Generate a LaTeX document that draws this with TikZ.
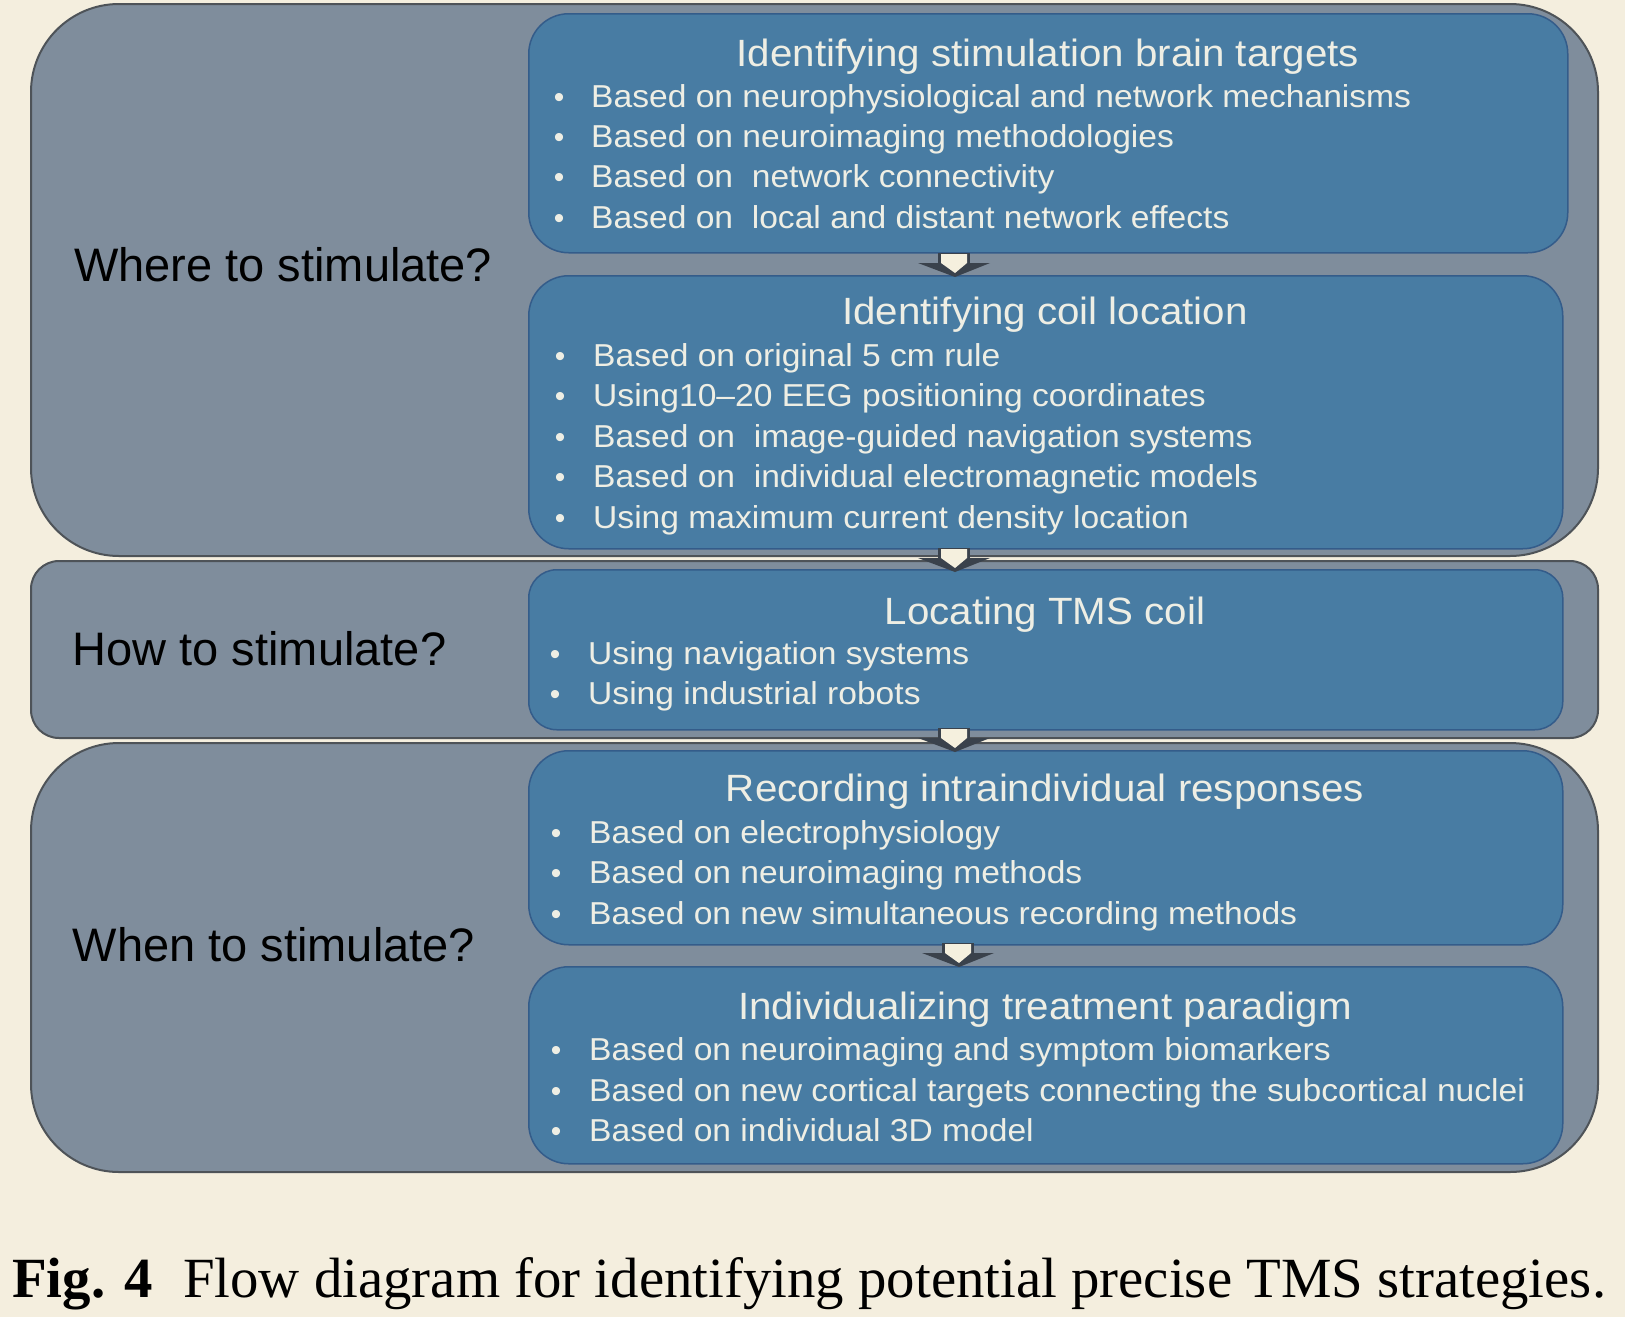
\documentclass[tikz,border=0pt]{standalone}
\usepackage{fontspec}
\newfontfamily\boxfont[FakeStretch=1.06]{Liberation Sans}
\newfontfamily\labfont{Liberation Sans}
\newfontfamily\capfont{Liberation Serif}
\definecolor{bgcream}{RGB}{244,238,222}
\definecolor{outerfill}{RGB}{127,141,156}
\definecolor{outerline}{RGB}{78,83,88}
\definecolor{innerfill}{RGB}{72,124,163}
\definecolor{innerline}{RGB}{52,92,138}
\definecolor{boxtext}{RGB}{238,238,228}
\definecolor{arrowcream}{RGB}{245,240,222}
\definecolor{arrowdark}{RGB}{58,66,76}
\newcommand{\blkarrow}[1]{%
  \begin{scope}[shift={(#1)}]
    \fill[arrowdark] (-36,10) -- (36,10) -- (1,24) -- cycle;
    \fill[arrowdark] (-16,0) rectangle (16,11);
    \fill[arrowcream] (-13,1) -- (13,1) -- (13,10) -- (1,20) -- (-13,10) -- cycle;
  \end{scope}}
\begin{document}
\begin{tikzpicture}[x=1pt,y=-1pt,
  outerbox/.style={draw=outerline, line width=2pt, fill=outerfill, anchor=north west, inner sep=0pt},
  innerbox/.style={draw=innerline, line width=1.5pt, fill=innerfill, anchor=north west, inner sep=0pt},
  boxtitle/.style={font={\boxfont\fontsize{38}{44}\selectfont}, text=boxtext, anchor=base, inner sep=0pt},
  item/.style={font={\boxfont\fontsize{31.7}{36}\selectfont}, text=boxtext, anchor=base west, inner sep=0pt},
  bul/.style={font={\labfont\fontsize{30}{36}\selectfont}, text=boxtext, anchor=base, inner sep=0pt},
  sidelabel/.style={font={\labfont\fontsize{47}{54}\selectfont}, text=black, anchor=base west, inner sep=0pt},
  capstyle/.style={font={\capfont\fontsize{56.8}{66}\selectfont}, text=black, anchor=base west, inner sep=0pt}]
\useasboundingbox (0,0) rectangle (1625,1317);
\fill[bgcream] (0,0) rectangle (1625,1317);

% outer group boxes
\node[outerbox, rounded corners=88pt, minimum width=1567pt, minimum height=552pt] (where) at (30,3) {};
\node[outerbox, rounded corners=28pt, minimum width=1567pt, minimum height=177pt] (how) at (30,560) {};
\node[outerbox, rounded corners=88pt, minimum width=1567pt, minimum height=429pt] (when) at (30,742) {};

% inner boxes
\node[innerbox, rounded corners=40pt, minimum width=1039pt, minimum height=239pt] (A) at (528,13) {};
\node[innerbox, rounded corners=40pt, minimum width=1034pt, minimum height=273pt] (B) at (528,275) {};
\node[innerbox, rounded corners=28pt, minimum width=1034pt, minimum height=160pt] (C) at (528,569) {};
\node[innerbox, rounded corners=40pt, minimum width=1034pt, minimum height=194pt] (D) at (528,750) {};
\node[innerbox, rounded corners=40pt, minimum width=1034pt, minimum height=197pt] (E) at (528,966) {};

% side labels
\node[sidelabel] (lwhere) at (74,281) {Where to stimulate?};
\node[sidelabel] (lhow) at (72.5,665) {How to stimulate?};
\node[sidelabel] (lwhen) at (72.5,961) {When to stimulate?};

% titles
\node[boxtitle] (tA) at (1048,66) {Identifying stimulation brain targets};
\node[boxtitle] (tB) at (1045,324) {Identifying coil location};
\node[boxtitle] (tC) at (1045,624) {Locating TMS coil};
\node[boxtitle] (tD) at (1045,801) {Recording intraindividual responses};
\node[boxtitle] (tE) at (1045,1019) {Individualizing treatment paradigm};

% items A
\foreach \t [count=\i] in {Based on neurophysiological and network mechanisms,
  Based on neuroimaging methodologies,
  Based on~~network connectivity,
  Based on~~local and distant network effects}{
  \node[bul] (bA\i) at (559,{107.3+40.3*(\i-1)}) {•};
  \node[item] (iA\i) at (591,{107.3+40.3*(\i-1)}) {\t};
}
% items B
\foreach \t [count=\i] in {Based on original 5 cm rule,
  Using10–20 EEG positioning coordinates,
  Based on~~image-guided navigation systems,
  Based on~~individual electromagnetic models,
  Using maximum current density location}{
  \node[bul] (bB\i) at (560,{366+40.6*(\i-1)}) {•};
  \node[item] (iB\i) at (593,{366+40.6*(\i-1)}) {\t};
}
% items C
\foreach \t [count=\i] in {Using navigation systems,
  Using industrial robots}{
  \node[bul] (bC\i) at (555,{664+40.5*(\i-1)}) {•};
  \node[item] (iC\i) at (588,{664+40.5*(\i-1)}) {\t};
}
% items D
\foreach \t [count=\i] in {Based on electrophysiology,
  Based on neuroimaging methods,
  Based on new simultaneous recording methods}{
  \node[bul] (bD\i) at (556,{843.5+40.3*(\i-1)}) {•};
  \node[item] (iD\i) at (589,{843.5+40.3*(\i-1)}) {\t};
}
% items E
\foreach \t [count=\i] in {Based on neuroimaging and symptom biomarkers,
  Based on new cortical targets connecting the subcortical nuclei,
  Based on individual 3D model}{
  \node[bul] (bE\i) at (556,{1060.5+40.5*(\i-1)}) {•};
  \node[item] (iE\i) at (589,{1060.5+40.5*(\i-1)}) {\t};
}

% block arrows between boxes
\coordinate (arr1) at (954,253);
\coordinate (arr2) at (954,548);
\coordinate (arr3) at (954,728);
\coordinate (arr4) at (958,943);
\blkarrow{arr1}
\blkarrow{arr2}
\blkarrow{arr3}
\blkarrow{arr4}

% caption
\node[capstyle] (figlab) at (12,1297) {\bfseries Fig. 4};
\node[capstyle] (captext) at (183,1297) {Flow diagram for identifying potential precise TMS strategies.};
\end{tikzpicture}
\end{document}
